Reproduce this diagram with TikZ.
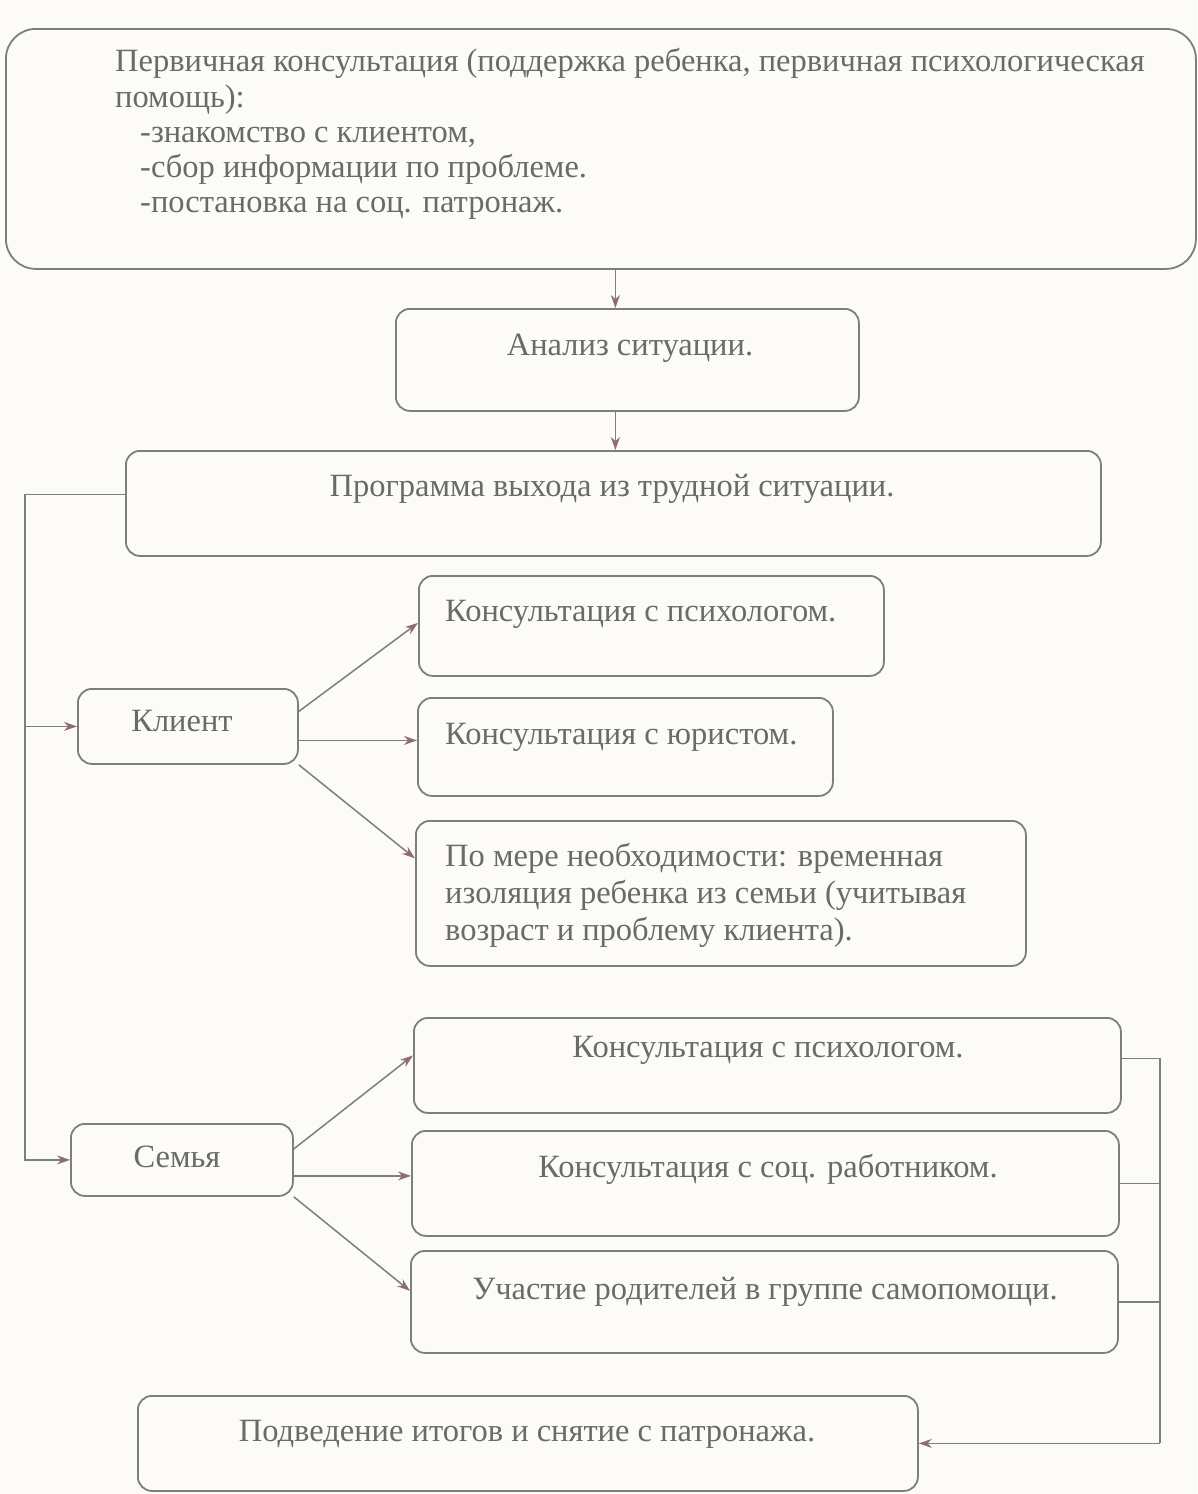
\documentclass[tikz,border=0pt]{standalone}
\usepackage{fontspec}
\setmainfont{Liberation Serif}
\usetikzlibrary{arrows.meta}
\definecolor{ln}{HTML}{7E7E7E}
\definecolor{tx}{HTML}{6A6A6A}
\definecolor{ah}{HTML}{8C6E70}
\definecolor{bg}{HTML}{FCFBF8}
\begin{document}
\begin{tikzpicture}[x=1pt,y=-1pt,
 box/.style={draw=ln, line width=1.8pt, rounded corners=14pt, anchor=north west, inner sep=0pt},
 txt/.style={text=tx, font=\fontsize{32.5}{36}\selectfont, inner sep=0pt},
 lnk/.style={draw=ln, line width=1.5pt},
 arr/.style={draw=ln, line width=1.5pt, -{Stealth[length=13pt,width=9pt,color=ah]}}]
\fill[bg] (0,0) rectangle (1197,1494);
\useasboundingbox (0,0) rectangle (1197,1494);
% boxes
\node[box, rounded corners=30pt, minimum width=1190pt, minimum height=240pt] (b0) at (5,28) {};
\node[box, minimum width=463pt, minimum height=102pt] (b1) at (395,308) {};
\node[box, minimum width=975pt, minimum height=105pt] (b2) at (125,450) {};
\node[box, minimum width=220pt, minimum height=75pt] (kl) at (77,688) {};
\node[box, minimum width=465pt, minimum height=100pt] (k1) at (418,575) {};
\node[box, minimum width=415pt, minimum height=98pt] (k2) at (417,697) {};
\node[box, minimum width=610pt, minimum height=145pt] (k3) at (415,820) {};
\node[box, minimum width=222pt, minimum height=72pt] (sm) at (70,1123) {};
\node[box, minimum width=707pt, minimum height=95pt] (s1) at (413,1017) {};
\node[box, minimum width=707pt, minimum height=105pt] (s2) at (411,1130) {};
\node[box, minimum width=707pt, minimum height=102pt] (s3) at (410,1250) {};
\node[box, minimum width=780pt, minimum height=95pt] (fin) at (137,1395) {};
% texts
\node[txt, anchor=base west] (t0a) at (115,71) {Первичная консультация (поддержка ребенка, первичная психологическая};
\node[txt, anchor=base west] (t0b) at (115,107) {помощь):};
\node[txt, anchor=base west] (t0c) at (140,142) {-знакомство с клиентом,};
\node[txt, anchor=base west] (t0d) at (140,177) {-сбор информации по проблеме.};
\node[txt, anchor=base west] (t0e) at (140,212) {-постановка на соц. патронаж.};
\node[txt, anchor=base] (t1) at (630,355) {Анализ ситуации.};
\node[txt, anchor=base] (t2) at (612,496) {Программа выхода из трудной ситуации.};
\node[txt, anchor=base] (tkl) at (182,731) {Клиент};
\node[txt, anchor=base west] (tk1) at (445,621) {Консультация с психологом.};
\node[txt, anchor=base west] (tk2) at (445,744) {Консультация с юристом.};
\node[txt, anchor=base west] (tk3a) at (445,866) {По мере необходимости: временная};
\node[txt, anchor=base west] (tk3b) at (445,903) {изоляция ребенка из семьи (учитывая};
\node[txt, anchor=base west] (tk3c) at (445,940) {возраст и проблему клиента).};
\node[txt, anchor=base] (tsm) at (177,1167) {Семья};
\node[txt, anchor=base] (ts1) at (768,1057) {Консультация с психологом.};
\node[txt, anchor=base] (ts2) at (768,1177) {Консультация с соц. работником.};
\node[txt, anchor=base] (ts3) at (765,1299) {Участие родителей в группе самопомощи.};
\node[txt, anchor=base] (tfin) at (527,1441) {Подведение итогов и снятие с патронажа.};
% connectors
\coordinate (L) at (25,0);
\coordinate (R) at (1160,0);
\draw[arr] ([xshift=-12pt]b1.north |- b0.south) -- ([xshift=-12pt]b1.north);
\draw[arr] ([xshift=-12pt]b1.south) -- ([xshift=-12pt]b1.south |- b2.north);
\draw[arr] ([yshift=9pt]b2.west) -| (L |- sm.west) -- (sm.west);
\draw[arr] (L |- kl.west) -- (kl.west);
\draw[arr] ([yshift=15pt]kl.east) -- ([yshift=3pt]k1.west);
\draw[arr] ([yshift=-14pt]kl.east) -- ([yshift=-14pt]kl.east -| k2.west);
\draw[arr] (kl.south east) -- ([yshift=35pt]k3.west);
\draw[arr] ([yshift=11pt]sm.east) -- ([yshift=10pt]s1.west);
\draw[arr] ([yshift=-16pt]sm.east) -- ([yshift=-16pt]sm.east -| s2.west);
\draw[arr] (sm.south east) -- ([yshift=11pt]s3.west);
\draw[lnk] ([yshift=7pt]s1.east) -- ([yshift=7pt]s1.east -| R) -- (R |- fin.east);
\draw[lnk] (s2.east) -- (s2.east -| R);
\draw[lnk] (s3.east) -- (s3.east -| R);
\draw[arr] (R |- fin.east) -- (fin.east);
\end{tikzpicture}
\end{document}
